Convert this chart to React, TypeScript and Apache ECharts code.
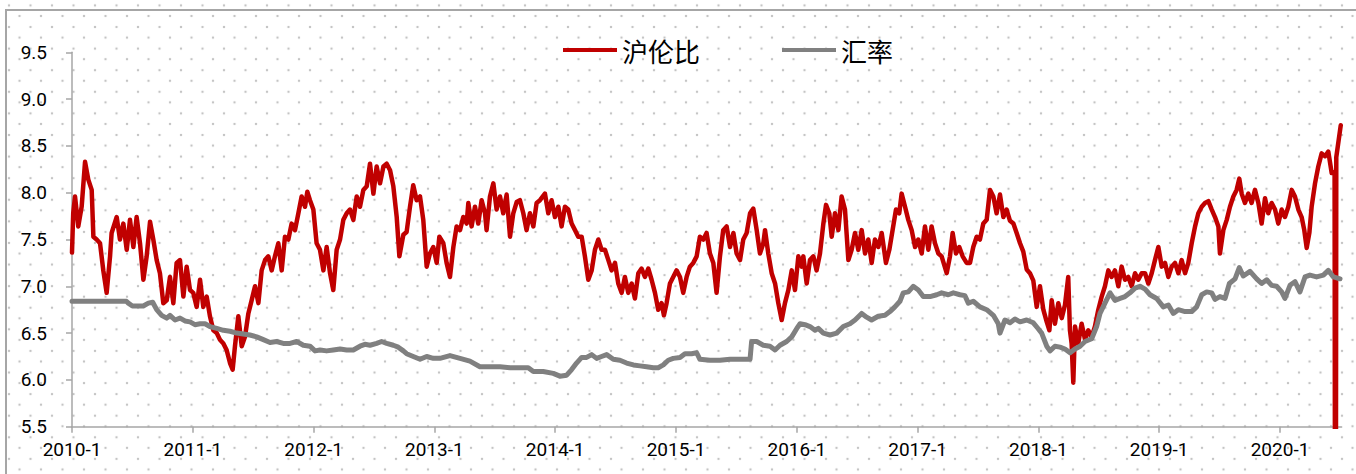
import React, { useEffect, useRef } from "react";
import * as echarts from "echarts";

const seriesNames = ["沪伦比", "汇率"];
const seriesColors = ["#C00000", "#808080"];
const yearTicks = [2010, 2011, 2012, 2013, 2014, 2015, 2016, 2017, 2018, 2019, 2020];
const yMin = 5.5;
const yMax = 9.5;
const yStep = 0.5;

// [decimal year, 沪伦比]
const ratioPoints: [number, number][] = [
  [2010.0, 7.36], [2010.01, 7.78], [2010.025, 7.96], [2010.052, 7.64], [2010.08, 7.85], [2010.108, 8.33],
  [2010.135, 8.14], [2010.163, 8.03], [2010.177, 7.53], [2010.204, 7.5], [2010.232, 7.46], [2010.259, 7.17],
  [2010.287, 6.93], [2010.315, 7.32], [2010.328, 7.57], [2010.37, 7.74], [2010.397, 7.5], [2010.425, 7.67],
  [2010.453, 7.39], [2010.48, 7.71], [2010.508, 7.42], [2010.535, 7.74], [2010.563, 7.46], [2010.591, 7.07],
  [2010.618, 7.32], [2010.646, 7.69], [2010.673, 7.5], [2010.701, 7.28], [2010.728, 7.14], [2010.756, 6.82],
  [2010.784, 6.85], [2010.811, 7.1], [2010.839, 6.82], [2010.866, 7.25], [2010.894, 7.28], [2010.922, 6.89],
  [2010.949, 7.21], [2010.977, 6.96], [2011.004, 6.93], [2011.032, 6.78], [2011.06, 7.07], [2011.087, 6.78],
  [2011.115, 6.89], [2011.142, 6.68], [2011.17, 6.53], [2011.198, 6.5], [2011.225, 6.43], [2011.253, 6.39],
  [2011.28, 6.32], [2011.308, 6.18], [2011.33, 6.11], [2011.349, 6.36], [2011.377, 6.68], [2011.405, 6.36],
  [2011.432, 6.46], [2011.46, 6.71], [2011.487, 6.85], [2011.515, 7.0], [2011.543, 6.82], [2011.57, 7.17],
  [2011.598, 7.28], [2011.625, 7.32], [2011.653, 7.17], [2011.68, 7.32], [2011.708, 7.46], [2011.736, 7.17],
  [2011.763, 7.53], [2011.791, 7.5], [2011.818, 7.67], [2011.846, 7.6], [2011.874, 7.78], [2011.901, 7.96],
  [2011.929, 7.85], [2011.948, 8.01], [2011.97, 7.92], [2011.998, 7.82], [2012.025, 7.46], [2012.053, 7.39],
  [2012.081, 7.17], [2012.108, 7.42], [2012.136, 7.14], [2012.163, 6.96], [2012.191, 7.39], [2012.219, 7.5],
  [2012.246, 7.71], [2012.274, 7.78], [2012.301, 7.82], [2012.329, 7.71], [2012.357, 7.96], [2012.384, 7.85],
  [2012.412, 8.03], [2012.44, 8.07], [2012.467, 8.31], [2012.495, 7.99], [2012.522, 8.28], [2012.55, 8.1],
  [2012.578, 8.28], [2012.605, 8.31], [2012.633, 8.24], [2012.66, 8.07], [2012.688, 7.74], [2012.71, 7.32],
  [2012.743, 7.55], [2012.77, 7.58], [2012.798, 7.85], [2012.825, 8.08], [2012.853, 7.92], [2012.881, 7.96],
  [2012.908, 7.71], [2012.936, 7.21], [2012.963, 7.35], [2012.991, 7.42], [2013.019, 7.25], [2013.041, 7.53],
  [2013.074, 7.46], [2013.101, 7.25], [2013.129, 7.1], [2013.157, 7.42], [2013.184, 7.64], [2013.212, 7.6],
  [2013.239, 7.74], [2013.267, 7.67], [2013.281, 7.89], [2013.308, 7.64], [2013.336, 7.85], [2013.363, 7.67],
  [2013.391, 7.92], [2013.419, 7.78], [2013.432, 7.6], [2013.46, 7.96], [2013.488, 8.1], [2013.515, 7.82],
  [2013.543, 7.96], [2013.57, 7.78], [2013.598, 7.98], [2013.626, 7.53], [2013.653, 7.78], [2013.681, 7.9],
  [2013.708, 7.92], [2013.736, 7.78], [2013.763, 7.6], [2013.791, 7.78], [2013.819, 7.64], [2013.846, 7.89],
  [2013.874, 7.92], [2013.915, 7.99], [2013.943, 7.78], [2013.97, 7.92], [2013.998, 7.74], [2014.026, 7.85],
  [2014.053, 7.64], [2014.081, 7.85], [2014.108, 7.82], [2014.136, 7.67], [2014.164, 7.6], [2014.191, 7.53],
  [2014.219, 7.53], [2014.246, 7.32], [2014.274, 7.07], [2014.302, 7.17], [2014.329, 7.39], [2014.357, 7.5],
  [2014.384, 7.39], [2014.412, 7.39], [2014.44, 7.28], [2014.467, 7.17], [2014.495, 7.25], [2014.522, 7.03],
  [2014.55, 6.93], [2014.577, 7.1], [2014.605, 6.93], [2014.633, 7.03], [2014.66, 6.87], [2014.688, 7.14],
  [2014.715, 7.19], [2014.743, 7.1], [2014.771, 7.19], [2014.798, 7.07], [2014.826, 6.93], [2014.853, 6.75],
  [2014.881, 6.82], [2014.9, 6.69], [2014.922, 6.82], [2014.95, 7.03], [2014.977, 7.1], [2015.005, 7.17],
  [2015.033, 7.1], [2015.06, 6.93], [2015.088, 7.1], [2015.115, 7.21], [2015.143, 7.25], [2015.171, 7.32],
  [2015.198, 7.53], [2015.226, 7.5], [2015.253, 7.57], [2015.281, 7.35], [2015.309, 7.25], [2015.336, 6.93],
  [2015.364, 7.32], [2015.391, 7.6], [2015.419, 7.64], [2015.447, 7.42], [2015.475, 7.57], [2015.502, 7.35],
  [2015.53, 7.28], [2015.557, 7.5], [2015.585, 7.57], [2015.613, 7.78], [2015.64, 7.83], [2015.668, 7.6],
  [2015.695, 7.35], [2015.723, 7.46], [2015.737, 7.6], [2015.764, 7.35], [2015.792, 7.14], [2015.82, 7.03],
  [2015.847, 6.82], [2015.875, 6.64], [2015.902, 6.82], [2015.93, 6.96], [2015.958, 7.17], [2015.985, 6.96],
  [2016.013, 7.32], [2016.04, 7.21], [2016.054, 7.32], [2016.082, 7.03], [2016.109, 7.28], [2016.137, 7.32],
  [2016.164, 7.17], [2016.192, 7.35], [2016.22, 7.67], [2016.242, 7.87], [2016.269, 7.78], [2016.289, 7.53],
  [2016.316, 7.78], [2016.344, 7.6], [2016.371, 7.96], [2016.399, 7.82], [2016.427, 7.28], [2016.454, 7.39],
  [2016.482, 7.57], [2016.509, 7.39], [2016.537, 7.6], [2016.565, 7.35], [2016.592, 7.5], [2016.62, 7.25],
  [2016.647, 7.5], [2016.675, 7.42], [2016.703, 7.57], [2016.738, 7.25], [2016.766, 7.39], [2016.793, 7.6],
  [2016.821, 7.82], [2016.848, 7.78], [2016.868, 7.99], [2016.896, 7.85], [2016.923, 7.71], [2016.951, 7.6],
  [2016.979, 7.42], [2017.006, 7.5], [2017.034, 7.35], [2017.061, 7.64], [2017.089, 7.39], [2017.116, 7.64],
  [2017.144, 7.46], [2017.172, 7.35], [2017.199, 7.32], [2017.241, 7.14], [2017.268, 7.32], [2017.29, 7.57],
  [2017.318, 7.35], [2017.345, 7.42], [2017.373, 7.32], [2017.406, 7.25], [2017.434, 7.25], [2017.461, 7.42],
  [2017.489, 7.53], [2017.516, 7.5], [2017.544, 7.67], [2017.572, 7.71], [2017.599, 8.03], [2017.627, 7.96],
  [2017.654, 7.78], [2017.682, 7.98], [2017.71, 7.74], [2017.737, 7.82], [2017.765, 7.7], [2017.793, 7.67],
  [2017.82, 7.57], [2017.848, 7.46], [2017.875, 7.37], [2017.903, 7.18], [2017.93, 7.14], [2017.958, 7.06],
  [2017.986, 6.78], [2018.013, 7.0], [2018.041, 6.75], [2018.069, 6.62], [2018.091, 6.53], [2018.11, 6.85],
  [2018.137, 6.6], [2018.165, 6.82], [2018.193, 6.66], [2018.22, 6.8], [2018.247, 7.1], [2018.261, 6.53],
  [2018.275, 6.39], [2018.289, 5.97], [2018.303, 6.57], [2018.33, 6.39], [2018.358, 6.6], [2018.386, 6.43],
  [2018.413, 6.53], [2018.441, 6.46], [2018.468, 6.57], [2018.496, 6.75], [2018.524, 6.89], [2018.551, 7.0],
  [2018.579, 7.17], [2018.606, 7.1], [2018.634, 7.17], [2018.662, 7.0], [2018.689, 7.21], [2018.717, 7.07],
  [2018.744, 7.1], [2018.772, 7.0], [2018.8, 7.14], [2018.827, 7.07], [2018.855, 7.14], [2018.883, 7.14],
  [2018.91, 7.03], [2018.938, 7.14], [2018.965, 7.28], [2018.993, 7.42], [2019.021, 7.21], [2019.048, 7.25],
  [2019.076, 7.1], [2019.103, 7.21], [2019.131, 7.25], [2019.159, 7.14], [2019.186, 7.28], [2019.214, 7.14],
  [2019.241, 7.25], [2019.269, 7.46], [2019.297, 7.64], [2019.324, 7.78], [2019.352, 7.85], [2019.379, 7.89],
  [2019.407, 7.91], [2019.435, 7.82], [2019.462, 7.74], [2019.49, 7.64], [2019.503, 7.35], [2019.531, 7.6],
  [2019.559, 7.71], [2019.586, 7.85], [2019.614, 7.96], [2019.641, 8.03], [2019.663, 8.15], [2019.683, 7.99],
  [2019.71, 7.89], [2019.738, 7.99], [2019.765, 7.89], [2019.793, 8.03], [2019.821, 7.89], [2019.848, 7.67],
  [2019.876, 7.94], [2019.903, 7.78], [2019.931, 7.89], [2019.959, 7.82], [2019.986, 7.67], [2020.014, 7.82],
  [2020.041, 7.74], [2020.069, 7.85], [2020.097, 8.03], [2020.124, 7.96], [2020.152, 7.82], [2020.179, 7.74],
  [2020.201, 7.6], [2020.221, 7.41], [2020.243, 7.57], [2020.262, 7.85], [2020.29, 8.1], [2020.317, 8.28],
  [2020.345, 8.42], [2020.373, 8.39], [2020.4, 8.44], [2020.428, 8.21], [2020.452, 8.22], [2020.459, 0],
  [2020.466, 8.38], [2020.503, 8.72],
];

// [decimal year, 汇率]
const fxPoints: [number, number][] = [
  [2010.0, 6.84], [2010.45, 6.84], [2010.466, 6.82], [2010.5, 6.79], [2010.59, 6.79], [2010.632, 6.82],
  [2010.668, 6.83], [2010.701, 6.75], [2010.742, 6.69], [2010.784, 6.66], [2010.811, 6.69], [2010.853, 6.64],
  [2010.894, 6.66], [2010.935, 6.63], [2010.977, 6.62], [2011.018, 6.59], [2011.06, 6.6], [2011.101, 6.6],
  [2011.142, 6.57], [2011.198, 6.55], [2011.253, 6.53], [2011.308, 6.52], [2011.363, 6.5], [2011.418, 6.49],
  [2011.473, 6.48], [2011.529, 6.46], [2011.584, 6.43], [2011.639, 6.4], [2011.694, 6.41], [2011.749, 6.39],
  [2011.805, 6.39], [2011.86, 6.41], [2011.915, 6.37], [2011.97, 6.36], [2012.012, 6.31], [2012.053, 6.32],
  [2012.108, 6.31], [2012.163, 6.32], [2012.219, 6.33], [2012.274, 6.32], [2012.329, 6.32], [2012.384, 6.36],
  [2012.425, 6.38], [2012.467, 6.37], [2012.522, 6.39], [2012.563, 6.41], [2012.605, 6.39], [2012.66, 6.37],
  [2012.701, 6.35], [2012.743, 6.31], [2012.77, 6.28], [2012.825, 6.25], [2012.881, 6.22], [2012.936, 6.25],
  [2012.991, 6.23], [2013.046, 6.23], [2013.129, 6.26], [2013.212, 6.23], [2013.294, 6.2], [2013.377, 6.14],
  [2013.46, 6.14], [2013.543, 6.14], [2013.626, 6.13], [2013.708, 6.13], [2013.777, 6.13], [2013.819, 6.09],
  [2013.901, 6.09], [2013.984, 6.07], [2014.039, 6.04], [2014.095, 6.05], [2014.136, 6.11], [2014.177, 6.18],
  [2014.219, 6.24], [2014.26, 6.24], [2014.302, 6.27], [2014.343, 6.23], [2014.384, 6.25], [2014.426, 6.27],
  [2014.481, 6.22], [2014.536, 6.21], [2014.591, 6.18], [2014.647, 6.16], [2014.702, 6.15], [2014.757, 6.14],
  [2014.812, 6.13], [2014.853, 6.13], [2014.895, 6.16], [2014.936, 6.21], [2014.977, 6.23], [2015.033, 6.24],
  [2015.074, 6.28], [2015.129, 6.28], [2015.171, 6.29], [2015.198, 6.22], [2015.281, 6.21], [2015.364, 6.21],
  [2015.447, 6.22], [2015.613, 6.22], [2015.626, 6.41], [2015.668, 6.41], [2015.723, 6.37], [2015.778, 6.36],
  [2015.82, 6.32], [2015.861, 6.37], [2015.916, 6.41], [2015.958, 6.46], [2016.0, 6.55], [2016.027, 6.6],
  [2016.068, 6.59], [2016.109, 6.57], [2016.151, 6.53], [2016.178, 6.55], [2016.22, 6.5], [2016.275, 6.48],
  [2016.33, 6.5], [2016.385, 6.57], [2016.44, 6.6], [2016.482, 6.64], [2016.537, 6.71], [2016.578, 6.67],
  [2016.619, 6.64], [2016.674, 6.68], [2016.73, 6.69], [2016.771, 6.73], [2016.812, 6.78], [2016.854, 6.84],
  [2016.881, 6.93], [2016.923, 6.94], [2016.964, 7.0], [2017.006, 6.96], [2017.047, 6.89], [2017.103, 6.89],
  [2017.158, 6.91], [2017.199, 6.93], [2017.254, 6.91], [2017.296, 6.93], [2017.351, 6.91], [2017.392, 6.9],
  [2017.42, 6.82], [2017.461, 6.84], [2017.516, 6.78], [2017.572, 6.75], [2017.627, 6.69], [2017.668, 6.6],
  [2017.682, 6.5], [2017.723, 6.64], [2017.765, 6.61], [2017.806, 6.65], [2017.848, 6.62], [2017.903, 6.64],
  [2017.958, 6.61], [2017.99, 6.56], [2018.027, 6.5], [2018.069, 6.36], [2018.096, 6.31], [2018.137, 6.36],
  [2018.179, 6.35], [2018.22, 6.33], [2018.262, 6.29], [2018.303, 6.33], [2018.345, 6.36], [2018.386, 6.41],
  [2018.441, 6.44], [2018.482, 6.57], [2018.51, 6.71], [2018.551, 6.82], [2018.593, 6.93], [2018.634, 6.85],
  [2018.676, 6.87], [2018.717, 6.89], [2018.758, 6.93], [2018.8, 6.98], [2018.841, 7.0], [2018.883, 6.97],
  [2018.924, 6.91], [2018.979, 6.87], [2019.034, 6.78], [2019.076, 6.8], [2019.117, 6.71], [2019.158, 6.75],
  [2019.214, 6.73], [2019.269, 6.73], [2019.31, 6.78], [2019.352, 6.91], [2019.393, 6.94], [2019.435, 6.93],
  [2019.462, 6.86], [2019.503, 6.89], [2019.545, 6.87], [2019.581, 7.03], [2019.628, 7.08], [2019.663, 7.2],
  [2019.696, 7.11], [2019.752, 7.16], [2019.807, 7.08], [2019.848, 7.03], [2019.89, 7.07], [2019.931, 7.01],
  [2019.972, 7.0], [2020.014, 6.94], [2020.041, 6.87], [2020.083, 7.01], [2020.124, 7.05], [2020.165, 6.94],
  [2020.207, 7.1], [2020.248, 7.12], [2020.303, 7.1], [2020.359, 7.12], [2020.4, 7.17], [2020.442, 7.1],
  [2020.497, 7.08],
];

const xMin = 2010;
const xMax = 2020.51;

export default function App() {
  const ref = useRef<HTMLDivElement>(null);

  useEffect(() => {
    document.body.style.margin = "0";
    if (!ref.current) return;
    const chart = echarts.init(ref.current, null, { renderer: "svg" });
    const axisColor = "#A6A6A6";
    const labelFont = "Roboto";
    chart.setOption({
      animation: false,
      color: seriesColors,
      graphic: [
        {
          type: "rect",
          silent: true,
          z: -10,
          shape: { x: 6, y: 10, width: 1400, height: 500 },
          style: { fill: "none", stroke: "#A6A6A6", lineWidth: 2 },
        },
      ],
      legend: {
        left: 563,
        top: 37,
        padding: 0,
        itemWidth: 54,
        itemHeight: 4,
        itemGap: 82,
        icon: "rect",
        data: seriesNames,
        textStyle: {
          fontFamily: "Noto Sans CJK SC",
          fontSize: 26,
          color: "#000",
        },
      },
      grid: { left: 72, right: 14.4, top: 52.3, bottom: 47.3, containLabel: false },
      xAxis: {
        type: "value",
        min: xMin,
        max: xMax,
        splitLine: { show: false },
        axisLine: { show: true, lineStyle: { color: axisColor, width: 1.5 } },
        axisTick: {
          show: true,
          length: 6,
          customValues: yearTicks,
          lineStyle: { color: axisColor, width: 1.5 },
        },
        axisLabel: {
          customValues: yearTicks,
          formatter: (v: number) => `${Math.round(v)}-1`,
          fontFamily: labelFont,
          fontSize: 19,
          color: "#000",
          margin: 13,
        },
      },
      yAxis: {
        type: "value",
        min: yMin,
        max: yMax,
        interval: yStep,
        splitLine: { show: false },
        axisLine: { show: true, lineStyle: { color: axisColor, width: 1.5 } },
        axisTick: { show: true, length: 6, lineStyle: { color: axisColor, width: 1.5 } },
        axisLabel: {
          formatter: (v: number) => v.toFixed(1),
          fontFamily: labelFont,
          fontSize: 19,
          color: "#000",
          margin: 25,
        },
      },
      series: [
        {
          name: seriesNames[0],
          type: "line",
          data: ratioPoints,
          showSymbol: false,
          symbol: "none",
          clip: true,
          lineStyle: { width: 4.5, color: seriesColors[0], join: "round", cap: "round" },
          itemStyle: { color: seriesColors[0] },
          z: 2,
        },
        {
          name: seriesNames[1],
          type: "line",
          data: fxPoints,
          showSymbol: false,
          symbol: "none",
          clip: true,
          lineStyle: { width: 5, color: seriesColors[1], join: "round", cap: "round" },
          itemStyle: { color: seriesColors[1] },
          z: 3,
        },
      ],
    });
    return () => chart.dispose();
  }, []);

  const dot = "radial-gradient(circle, #c4c4c4 0, #c4c4c4 1px, rgba(255,255,255,0) 1.6px)";
  return (
    <div
      ref={ref}
      style={{
        width: 1356,
        height: 474,
        backgroundColor: "#fff",
        backgroundImage: `${dot}, ${dot}`,
        backgroundSize: "21.5px 21.6px",
        backgroundPosition: "-1.75px -5.4px, 8.75px 5.2px",
      }}
    />
  );
}
